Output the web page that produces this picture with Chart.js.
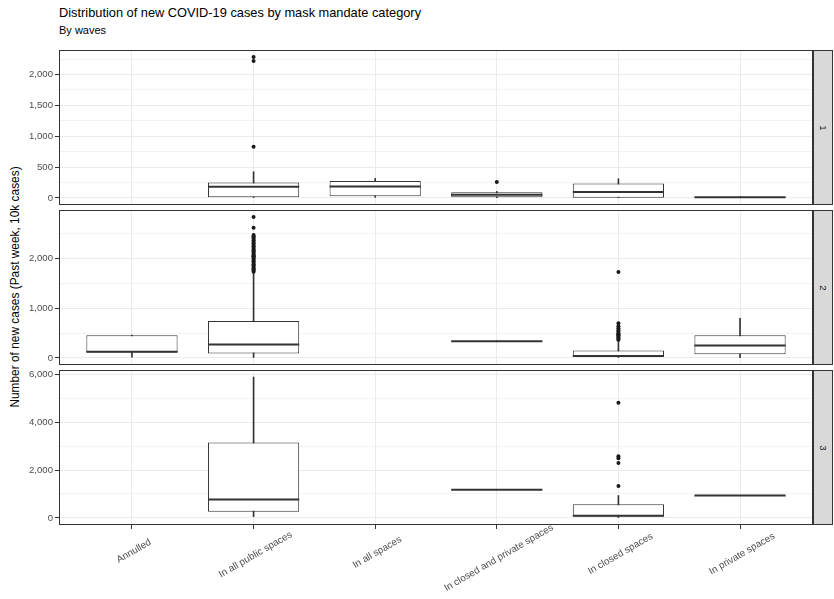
<!DOCTYPE html>
<html><head><meta charset="utf-8">
<script src="https://cdn.jsdelivr.net/npm/chart.js@4/dist/chart.umd.min.js"></script>
<style>
html,body{margin:0;padding:0;background:#fff;}
body{width:834px;height:599px;position:relative;overflow:hidden;font-family:"Liberation Sans",Arial,sans-serif;}
.title{position:absolute;left:59px;top:5px;font-size:12.8px;color:#000;white-space:nowrap;}
.subtitle{position:absolute;left:59px;top:24px;font-size:11px;color:#000;white-space:nowrap;}
.ytitle{position:absolute;left:15px;top:287px;transform:translate(-50%,-50%) rotate(-90deg);font-size:11.9px;color:#000;white-space:nowrap;}
.panel{position:absolute;left:0;width:813px;}
.strip{position:absolute;left:813px;width:20px;background:#d9d9d9;border:1px solid #333;box-sizing:border-box;}
.strip span{position:absolute;left:50%;top:50%;transform:translate(-50%,-50%) rotate(90deg);font-size:9.5px;color:#1a1a1a;}
</style>
</head><body>
<div class="title">Distribution of new COVID-19 cases by mask mandate category</div>
<div class="subtitle">By waves</div>
<div class="ytitle">Number of new cases (Past week, 10k cases)</div>
<div class="panel" style="top:50px;height:155px"><canvas id="c1"></canvas></div>
<div class="panel" style="top:210px;height:155px"><canvas id="c2"></canvas></div>
<div class="panel" style="top:370px;height:229px"><canvas id="c3"></canvas></div>
<div class="strip" style="top:50px;height:155px"><span>1</span></div>
<div class="strip" style="top:210px;height:155px"><span>2</span></div>
<div class="strip" style="top:370px;height:155px"><span>3</span></div>
<script>
// ---------- DATA ----------
const categories = ['Annulled','In all public spaces','In all spaces','In closed and private spaces','In closed spaces','In private spaces'];
const waves = ['1','2','3'];

// Wave 1
const w1Low    = [null, 0,   10,  5,   0,   4];
const w1Q1     = [null, 11,  28,  11,  2,   8];
const w1Median = [null, 180, 186, 50,  98,  12];
const w1Q3     = [null, 252, 273, 93,  235, 16];
const w1High   = [null, 425, 317, 105, 311, 22];
const w1OutCat = [1, 1, 1, 3];
const w1OutVal = [2283, 2217, 828, 257];
const w1MajorTicks = [0, 500, 1000, 1500, 2000];
const w1MinorTicks = [250, 750, 1250, 1750, 2250];

// Wave 2
const w2Low    = [15,  0,    null, 335, 0,   8];
const w2Q1     = [110, 89,   null, 335, 20,  75];
const w2Median = [125, 271,  null, 339, 40,  251];
const w2Q3     = [460, 744,  null, 343, 150, 460];
const w2High   = [460, 1712, null, 343, 313, 799];
const w2OutCat = [1,1,1,1,1,1,1,1,1,1,1,1,1,1,1,1,1,1,1,1,1,1,1,1,1,1,1,1,1,1,1,1,
                  4,4,4,4,4,4,4,4,4,4,4,4,4,4];
const w2OutVal = [1735,1760,1790,1810,1840,1870,1890,1920,1950,1975,2000,2020,2045,2070,2095,2120,
                  2145,2170,2195,2220,2250,2280,2310,2340,2370,2400,2430,2455,2480,2625,2840,2050,
                  360,380,400,420,440,460,480,500,530,560,600,640,700,1732];
const w2MajorTicks = [0, 1000, 2000];
const w2MinorTicks = [500, 1500, 2500];

// Wave 3
const w3Low    = [null, 55,   null, 1174, 0,   935];
const w3Q1     = [null, 264,  null, 1174, 60,  935];
const w3Median = [null, 767,  null, 1174, 90,  935];
const w3Q3     = [null, 3145, null, 1174, 574, 935];
const w3High   = [null, 5880, null, 1174, 935, 935];
const w3OutCat = [4, 4, 4, 4, 4];
const w3OutVal = [1329, 2293, 2487, 2570, 4809];
const w3MajorTicks = [0, 2000, 4000, 6000];
const w3MinorTicks = [1000, 3000, 5000];

// ---------- STYLE ----------
const INK = '#333333';
const GRID = '#ebebeb';
const TICKTXT = '#4d4d4d';
const FONT = '"Liberation Sans", Arial, sans-serif';

const framePlugin = {
  id: 'frame',
  afterDraw(chart) {
    const a = chart.chartArea, c = chart.ctx;
    c.save();
    c.strokeStyle = INK; c.lineWidth = 1;
    c.strokeRect(Math.round(a.left) + 0.5, Math.round(a.top) + 0.5, Math.round(a.right - a.left) - 1, Math.round(a.bottom - a.top) - 1);
    c.restore();
  }
};

// centre each rotated x label under its tick (ggplot-like justification)
const centreLabelsPlugin = {
  id: 'centreLabels',
  beforeDraw(chart) {
    const sx = chart.scales.x;
    if (!sx.options.ticks.display) return;
    const items = sx.getLabelItems(chart.chartArea);
    const c = chart.ctx;
    items.forEach((it, i) => {
      c.save();
      c.font = it.font.string;
      const w = c.measureText(String(it.label)).width;
      c.restore();
      const x = sx.getPixelForTick(i) + 2;
      const y = chart.chartArea.bottom + 23 + 0.08 * w;
      it.options.translation = [x, y];
      it.options.textAlign = 'center';
      it.options.textBaseline = 'middle';
      it.textOffset = 0;
    });
  }
};

function pts(arr) {
  const out = [];
  arr.forEach((v, i) => { if (v !== null) out.push({ x: i, y: v }); });
  return out;
}
function range2(a, b) {
  const out = [];
  a.forEach((v, i) => { if (v !== null) out.push({ x: i, y: [v, b[i]] }); });
  return out;
}

function makePanel(id, low, q1, med, q3, high, outCat, outVal, major, minor, showX) {
  const all = [...low, ...high, ...outVal].filter(v => v !== null);
  const lo = Math.min(...all), hi = Math.max(...all), ex = (hi - lo) * 0.05;
  const majorSet = new Set(major);
  const allTicks = [...major, ...minor].sort((a, b) => a - b);
  const medRadius = (ctx) => {
    const s = ctx.chart.scales.x;
    return Math.abs(s.getPixelForValue(1) - s.getPixelForValue(0)) * 0.375;
  };
  new Chart(document.getElementById(id), {
    type: 'bar',
    data: {
      datasets: [
        { type: 'scatter', order: 0, data: outVal.map((v, i) => ({ x: outCat[i], y: v })),
          pointRadius: 2, pointBackgroundColor: '#1a1a1a', pointBorderWidth: 0 },
        { type: 'scatter', order: 1, data: pts(med), pointStyle: 'line',
          pointRadius: medRadius, pointBorderColor: INK, pointBorderWidth: 2 },
        { type: 'bar', order: 2, data: range2(q1, q3), grouped: false,
          backgroundColor: '#ffffff', borderColor: INK, borderWidth: 1, borderSkipped: false,
          barPercentage: 0.75, categoryPercentage: 1 },
        { type: 'bar', order: 3, data: range2(low, high), grouped: false,
          backgroundColor: INK, barThickness: 1 }
      ]
    },
    options: {
      responsive: true, maintainAspectRatio: false, animation: false,
      layout: { padding: 0, autoPadding: false },
      plugins: { legend: { display: false }, tooltip: { enabled: false } },
      scales: {
        x: {
          type: 'linear', min: -0.6, max: 5.6, offset: false,
          afterBuildTicks: ax => { ax.ticks = categories.map((c, i) => ({ value: i })); },
          afterFit: ax => { ax.height = showX ? 74 : 0; ax.paddingLeft = 0; ax.paddingRight = 0; ax.paddingTop = 0; ax.paddingBottom = 0; },
          border: { display: false },
          grid: { offset: false, color: GRID, lineWidth: 1, drawTicks: showX, tickLength: 4, tickColor: INK },
          ticks: {
            display: showX, autoSkip: false, minRotation: 30, maxRotation: 30, padding: 2,
            color: TICKTXT, font: { family: FONT, size: 9.8 },
            callback: v => categories[v]
          }
        },
        y: {
          min: lo - ex, max: hi + ex,
          afterBuildTicks: ax => { ax.ticks = allTicks.map(v => ({ value: v })); },
          afterFit: ax => { ax.width = 59; ax.paddingTop = 0; ax.paddingBottom = 0; ax.paddingLeft = 0; ax.paddingRight = 0; },
          border: { display: false },
          grid: {
            color: GRID,
            lineWidth: ctx => (ctx.tick && majorSet.has(ctx.tick.value)) ? 1 : 0.6,
            tickLength: 4,
            tickColor: ctx => (ctx.tick && majorSet.has(ctx.tick.value)) ? INK : 'rgba(0,0,0,0)'
          },
          ticks: {
            padding: 2, color: TICKTXT, font: { family: FONT, size: 9.6 },
            callback: v => majorSet.has(v) ? v.toLocaleString('en-US') : ''
          }
        }
      }
    },
    plugins: [framePlugin, centreLabelsPlugin]
  });
}

makePanel('c1', w1Low, w1Q1, w1Median, w1Q3, w1High, w1OutCat, w1OutVal, w1MajorTicks, w1MinorTicks, false);
makePanel('c2', w2Low, w2Q1, w2Median, w2Q3, w2High, w2OutCat, w2OutVal, w2MajorTicks, w2MinorTicks, false);
makePanel('c3', w3Low, w3Q1, w3Median, w3Q3, w3High, w3OutCat, w3OutVal, w3MajorTicks, w3MinorTicks, true);
</script>
</body></html>
